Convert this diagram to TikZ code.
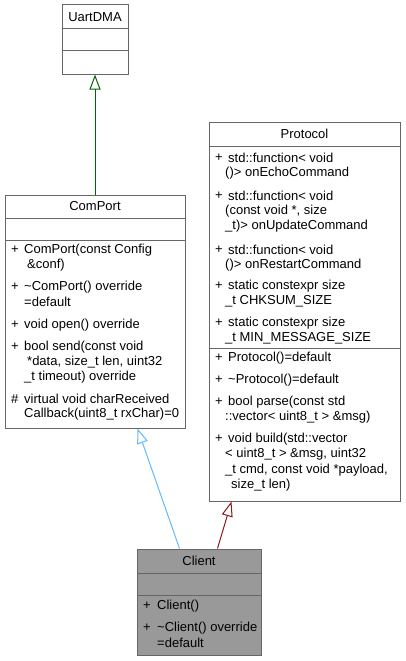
\documentclass[tikz,border=0pt]{standalone}
\usepackage{fontspec}
\setmainfont{Liberation Sans}
\usetikzlibrary{arrows.meta}
\definecolor{boxgray}{HTML}{666666}
\definecolor{clientgray}{HTML}{999999}
\definecolor{pubblue}{HTML}{63B8FF}
\definecolor{protgreen}{HTML}{006400}
\definecolor{privred}{HTML}{8B1A1A}
\tikzset{
    classbox/.style={draw=boxgray, line width=1pt, inner sep=0pt},
    classname/.style={inner sep=0pt, font=\fontsize{13}{15}\selectfont},
    member/.style={anchor=west, inner sep=0pt, font=\fontsize{13}{15}\selectfont},
    inherits/.style={-{Triangle[open,length=15pt,width=11pt]}, line width=1pt},
}
\begin{document}
\begin{tikzpicture}[x=1pt,y=-1pt]
    \useasboundingbox (0,0) rectangle (405,661);
    \node[classbox, minimum width=66, minimum height=69] (uart) at (95,39.5) {};
    \node[classbox, minimum width=180, minimum height=233] (comport) at (95,311.5) {};
    \node[classbox, minimum width=191, minimum height=379] (protocol) at (304.5,311.5) {};
    \node[classbox, fill=clientgray, minimum width=124, minimum height=106] (client) at (199,602) {};
    \foreach \l/\r/\y in {62/128/29, 62/128/51, 5/185/218, 5/185/240,
        209/400/146, 209/400/348, 137/261/573, 137/261/595} {
        \draw[boxgray, line width=1pt] (\l,\y) -- (\r,\y);
    }
    \node[classname] (uartname) at (95,17) {UartDMA};
    \node[classname] (comportname) at (95,206.5) {ComPort};
    \node[classname] (protocolname) at (304.5,134) {Protocol};
    \node[classname] (clientname) at (199,561) {Client};
    % ComPort
    \foreach \m/\y [count=\i] in {+/250, +/287, +/325, +/347, \#/399} {
        \node[member] (cpmark\i) at (11,\y) {\m};
    }
    \foreach \x/\y/\t [count=\i] in {
        24/250/{ComPort(const Config},
        27/265/{\&conf)},
        24/287/{\textasciitilde ComPort() override},
        24/302/{=default},
        24/325/{void open() override},
        24/347/{bool send(const void},
        27/362/{*data, size\_t len, uint32},
        24/377/{\_t timeout) override},
        24/399/{virtual void charReceived},
        24/414/{Callback(uint8\_t rxChar)=0}
    } {
        \node[member] (cpline\i) at (\x,\y) {\t};
    }
    % Protocol
    \foreach \y [count=\i] in {158,196,250,286,323,358,380,402,439} {
        \node[member] (prmark\i) at (215,\y) {+};
    }
    \foreach \x/\y/\t [count=\i] in {
        228/158/{std::function< void},
        225/173/{()> onEchoCommand},
        228/196/{std::function< void},
        225/211/{(const void *, size},
        225/226/{\_t)> onUpdateCommand},
        228/250/{std::function< void},
        225/265/{()> onRestartCommand},
        228/286/{static constexpr size},
        225/301/{\_t CHKSUM\_SIZE},
        228/323/{static constexpr size},
        225/338/{\_t MIN\_MESSAGE\_SIZE},
        228/358/{Protocol()=default},
        228/380/{\textasciitilde Protocol()=default},
        228/402/{bool parse(const std},
        225/417/{::vector< uint8\_t > \&msg)},
        228/439/{void build(std::vector},
        225/454/{< uint8\_t > \&msg, uint32},
        225/470/{\_t cmd, const void *payload,},
        231/485/{size\_t len)}
    } {
        \node[member] (prline\i) at (\x,\y) {\t};
    }
    % Client
    \foreach \y [count=\i] in {606,628} {
        \node[member] (clmark\i) at (143,\y) {+};
    }
    \foreach \y/\t [count=\i] in {606/{Client()}, 628/{\textasciitilde Client() override}, 643/{=default}} {
        \node[member] (clline\i) at (157,\y) {\t};
    }
    \draw[protgreen, inherits] (comport.north) -- (uart.south);
    \draw[pubblue, inherits] ([xshift=43]client.north west) -- ([xshift=133]comport.south west);
    \draw[privred, inherits] ([xshift=81]client.north west) -- ([xshift=23]protocol.south west);
\end{tikzpicture}
\end{document}
